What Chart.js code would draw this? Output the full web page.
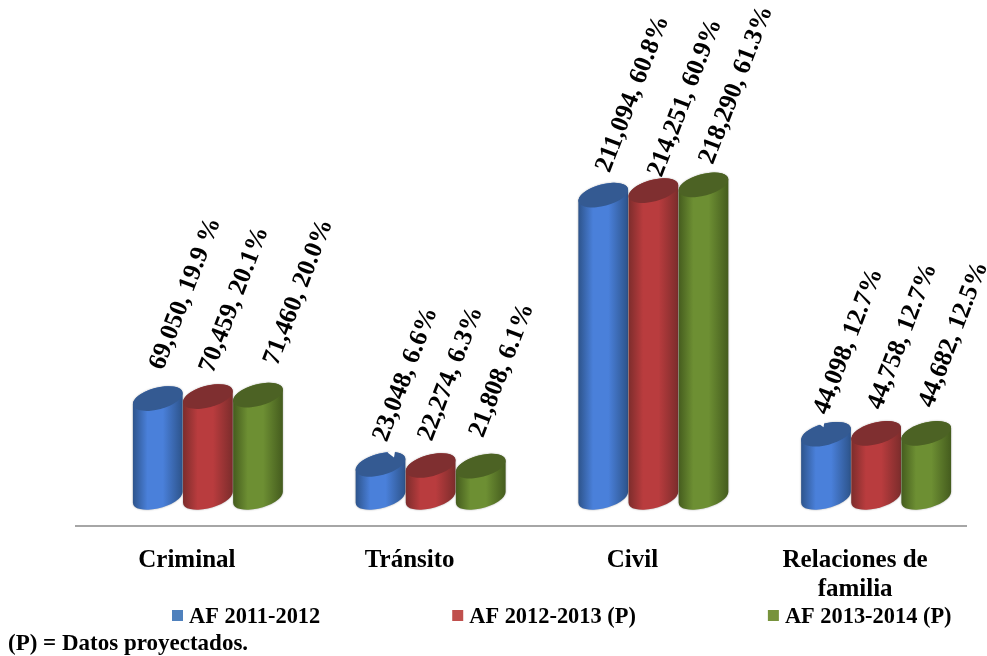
<!DOCTYPE html>
<html>
<head>
<meta charset="utf-8">
<style>
  html, body { margin: 0; padding: 0; background: #fff; }
  canvas { display: block; }
</style>
<script src="https://cdn.jsdelivr.net/npm/chart.js@4"></script>
</head>
<body>
<canvas id="chart" width="987" height="656"></canvas>
<script>
const categories = ['Criminal', 'Tránsito', 'Civil', ['Relaciones de', 'familia']];
const seriesNames = ['AF 2011-2012', 'AF 2012-2013 (P)', 'AF 2013-2014 (P)'];
const values2011 = [69050, 23048, 211094, 44098];
const values2012 = [70459, 22274, 214251, 44758];
const values2013 = [71460, 21808, 218290, 44682];
const shares2011 = ['19.9 %', '6.6%', '60.8%', '12.7%'];
const shares2012 = ['20.1%', '6.3%', '60.9%', '12.7%'];
const shares2013 = ['20.0%', '6.1%', '61.3%', '12.5%'];

const FONT = '"Liberation Serif", "Times New Roman", serif';

// swatch, dark edge, bright middle, top cap
const palette = [
  { swatch: '#4f81bd', edge: '#2c5288', mid: '#4a80da', cap: '#345a92' },
  { swatch: '#c0504d', edge: '#7a2c2b', mid: '#b93c3e', cap: '#7f2f30' },
  { swatch: '#77933c', edge: '#435a1d', mid: '#6d8f33', cap: '#4c6224' }
];
const allShares = [shares2011, shares2012, shares2013];

// the 3D look pushes the cylinders back from the axis
const DEPTH_X = 21;
const DEPTH_Y = 29;
const TILT = -15 * Math.PI / 180;
const LABEL_ANGLE = -69 * Math.PI / 180;

// where each rotated label sits, relative to its cylinder's cap [dx, dy]
const labelNudge = [
  [[-1, -30], [0, -24], [0, -24], [-5, -21]],
  [[-1, -25], [-5, -26], [2, -15], [-1, -25]],
  [[13, -31], [-4, -30], [3, -22], [0, -27]]
];
// blue caps that have a small bite out of the top edge: category index -> shift along the cap
const capNotches = { 1: 13, 3: -3 };

function drawCylinder(ctx, bar, colors) {
  const cx = bar.x + DEPTH_X;
  const top = bar.y - DEPTH_Y;
  const bottom = bar.base - DEPTH_Y;
  const a = bar.width / 2 + 0.5;
  const b = 10.8;
  const t = Math.atan(-(b / a) * Math.tan(TILT));

  ctx.save();
  ctx.shadowColor = 'rgba(0,0,0,0.35)';
  ctx.shadowBlur = 2;
  const grad = ctx.createLinearGradient(cx - a, 0, cx + a, 0);
  grad.addColorStop(0, colors.edge);
  grad.addColorStop(0.3, colors.mid);
  grad.addColorStop(0.6, colors.mid);
  grad.addColorStop(1, colors.edge);
  ctx.fillStyle = grad;
  ctx.beginPath();
  ctx.ellipse(cx, top, a, b, TILT, t + Math.PI, t, false);
  ctx.ellipse(cx, bottom, a, b, TILT, t, t + Math.PI, false);
  ctx.closePath();
  ctx.fill();
  ctx.restore();

  ctx.fillStyle = colors.cap;
  ctx.beginPath();
  ctx.ellipse(cx, top, a, b, TILT, 0, Math.PI * 2);
  ctx.fill();
}

function drawNotch(ctx, bar, shift) {
  const cx = bar.x + DEPTH_X + shift;
  const top = bar.y - DEPTH_Y;
  ctx.fillStyle = '#fff';
  ctx.beginPath();
  ctx.moveTo(cx - 6, top - 12);
  ctx.lineTo(cx + 0.5, top - 7);
  ctx.lineTo(cx + 2, top - 16);
  ctx.closePath();
  ctx.fill();
}

function drawLegend(chart) {
  const ctx = chart.ctx;
  let x = 172;
  ctx.save();
  ctx.font = 'bold 22.4px ' + FONT;
  ctx.textAlign = 'left';
  ctx.textBaseline = 'middle';
  chart.data.datasets.forEach((ds, i) => {
    ctx.fillStyle = ds.backgroundColor;
    ctx.fillRect(x, 610, 11, 11);
    ctx.fillStyle = '#000';
    ctx.fillText(ds.label, x + 17, 617);
    x += 17 + ctx.measureText(ds.label).width + 132;
  });
  ctx.restore();
}

const cylinders = {
  id: 'cylinders',
  beforeDatasetDraw() {
    return false;
  },
  afterDatasetsDraw(chart) {
    const ctx = chart.ctx;
    chart.data.datasets.forEach((ds, i) => {
      chart.getDatasetMeta(i).data.forEach(bar => drawCylinder(ctx, bar, palette[i]));
    });
    const blue = chart.getDatasetMeta(0).data;
    Object.keys(capNotches).forEach(j => drawNotch(ctx, blue[j], capNotches[j]));
    chart.data.datasets.forEach((ds, i) => {
      chart.getDatasetMeta(i).data.forEach((bar, j) => {
        ctx.save();
        ctx.translate(bar.x + DEPTH_X + labelNudge[i][j][0], bar.y - DEPTH_Y + labelNudge[i][j][1]);
        ctx.rotate(LABEL_ANGLE);
        ctx.font = 'bold 25.7px ' + FONT;
        ctx.fillStyle = '#000';
        ctx.textAlign = 'left';
        ctx.textBaseline = 'middle';
        ctx.fillText(ds.data[j].toLocaleString('en-US') + ', ' + allShares[i][j], 0, 0);
        ctx.restore();
      });
    });
    drawLegend(chart);
  }
};

new Chart(document.getElementById('chart'), {
  type: 'bar',
  data: {
    labels: categories,
    datasets: [
      { label: seriesNames[0], data: values2011, backgroundColor: palette[0].swatch },
      { label: seriesNames[1], data: values2012, backgroundColor: palette[1].swatch },
      { label: seriesNames[2], data: values2013, backgroundColor: palette[2].swatch }
    ]
  },
  options: {
    responsive: false,
    animation: false,
    categoryPercentage: 0.675,
    barPercentage: 1,
    layout: { padding: { top: 11, left: 8, right: 20.5, bottom: 0 } },
    plugins: {
      tooltip: { enabled: false },
      legend: { display: false },
      title: {
        display: true,
        position: 'bottom',
        align: 'start',
        text: '(P) = Datos proyectados.',
        color: '#000',
        padding: { top: 16.6, bottom: 0 },
        font: { family: FONT, weight: 'bold', size: 23, lineHeight: 1 }
      }
    },
    scales: {
      x: {
        grid: { display: false },
        border: { color: '#a6a6a6', width: 2 },
        ticks: {
          color: '#000',
          maxRotation: 0,
          padding: 12,
          font: { family: FONT, weight: 'bold', size: 25, lineHeight: 1.16 }
        }
      },
      y: {
        min: 0,
        max: 360000,
        afterFit(scale) { scale.width = 67.5; },
        grid: { display: false },
        border: { display: false },
        ticks: { display: false }
      }
    }
  },
  plugins: [cylinders]
});
</script>
</body>
</html>
